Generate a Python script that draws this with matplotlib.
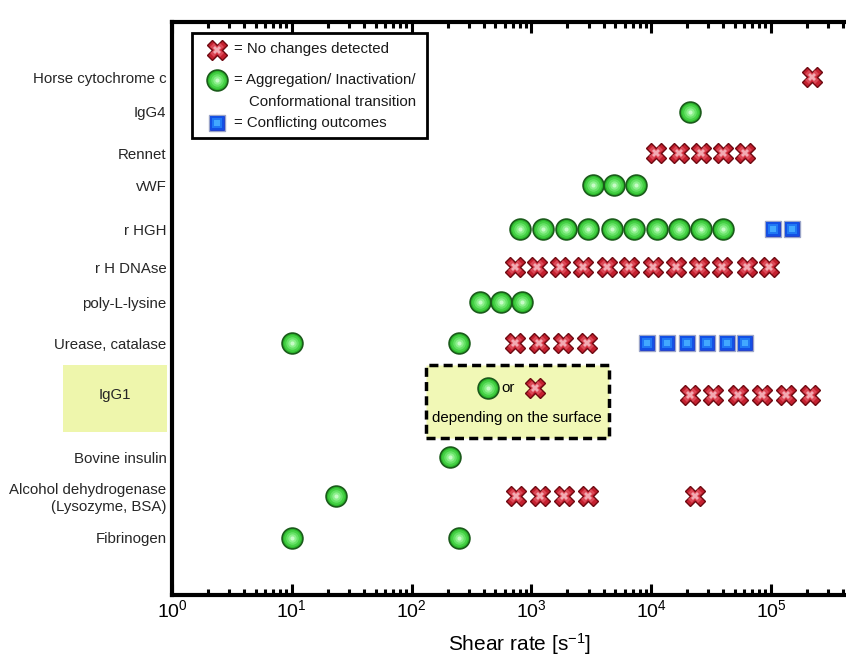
import matplotlib
matplotlib.use("Agg")
import matplotlib.pyplot as plt
from matplotlib.patches import Rectangle
from matplotlib.ticker import LogLocator, NullFormatter
import matplotlib.transforms as mtransforms

plt.rcParams['font.family'] = ['Liberation Sans', 'DejaVu Sans']
plt.rcParams['mathtext.fontset'] = 'custom'
plt.rcParams['mathtext.rm'] = 'Liberation Sans'
plt.rcParams['mathtext.it'] = 'Liberation Sans:italic'

# ---------- dados (taxa de cisalhamento, s^-1) ----------
proteins = ["Horse cytochrome c", "IgG4", "Rennet", "vWF", "r HGH", "r H DNAse",
            "poly-L-lysine", "Urease, catalase", "IgG1", "Bovine insulin",
            "Alcohol dehydrogenase\n(Lysozyme, BSA)", "Fibrinogen"]
row_pos = [12.95, 12.08, 11.05, 10.25, 9.15, 8.2, 7.32, 6.29, 5.0, 3.45, 2.48, 1.43]

no_change = [
    [2.2e5],
    [],
    [1.1e4, 1.7e4, 2.6e4, 4.0e4, 6.1e4],
    [],
    [],
    [730, 1120, 1730, 2710, 4250, 6560, 1.04e4, 1.61e4, 2.52e4, 3.87e4, 6.27e4, 9.68e4],
    [],
    [730, 1165, 1850, 2900],
    [2.1e4, 3.3e4, 5.3e4, 8.4e4, 1.33e5, 2.12e5],
    [],
    [740, 1180, 1870, 2990, 2.32e4],
    [],
]
aggregation = [
    [],
    [2.1e4],
    [],
    [3.3e3, 4.9e3, 7.4e3],
    [800, 1240, 1950, 2990, 4680, 7180, 1.11e4, 1.72e4, 2.62e4, 4.0e4],
    [],
    [372, 557, 840],
    [10, 250],
    [],
    [210],
    [23.4],
    [10, 250],
]
conflicting = [
    [], [], [], [],
    [1.04e5, 1.51e5],
    [], [],
    [9170, 1.35e4, 1.98e4, 2.9e4, 4.27e4, 6.07e4],
    [], [], [], [],
]

# ---------- estilo dos marcadores (camadas para efeito "brilhante") ----------
LAYERS = {
    "x": [("X", 14, "#c4202f", "#6e0a12", 1.0), ("X", 10, "#dc4a58", "none", 0),
          ("X", 6, "#f2aab2", "none", 0)],
    "o": [("o", 15, "#2cb82c", "#1a5a1a", 1.2), ("o", 12, "#45d045", "none", 0),
          ("o", 9, "#66e266", "none", 0), ("o", 6, "#8cf08c", "none", 0),
          ("o", 3, "#c6fbc6", "none", 0)],
    "s": [("s", 12, "#0b2fd0", "#9aa4c8", 1.0), ("s", 9.5, "#1450e4", "none", 0),
          ("s", 7, "#2078f4", "none", 0), ("s", 4, "#42a8ff", "none", 0)],
}


def glossy(ax, xs, ys, kind, z=5, **kw):
    for mk, ms, fc, ec, mew in LAYERS[kind]:
        ax.plot(xs, ys, ls="none", marker=mk, ms=ms, mfc=fc, mec=ec, mew=mew,
                zorder=z, clip_on=False, **kw)


fig = plt.figure(figsize=(8.46, 6.59), dpi=100)
ax = fig.add_axes([0.2033, 0.0971, 0.8213, 0.8695])
ax.set_xscale("log")
ax.set_xlim(1, 10 ** 5.8)
ax.set_ylim(0, 14.325)

for i, y in enumerate(row_pos):
    if aggregation[i]:
        glossy(ax, aggregation[i], [y] * len(aggregation[i]), "o")
    if no_change[i]:
        glossy(ax, no_change[i], [y] * len(no_change[i]), "x")
    if conflicting[i]:
        glossy(ax, conflicting[i], [y] * len(conflicting[i]), "s")

# ---------- eixos ----------
for sp in ax.spines.values():
    sp.set_linewidth(3)
ax.xaxis.set_major_locator(LogLocator(base=10, numticks=10))
ax.xaxis.set_minor_locator(LogLocator(base=10, subs=range(2, 10), numticks=20))
ax.xaxis.set_minor_formatter(NullFormatter())
ax.tick_params(axis="x", which="both", direction="in", top=True, bottom=True,
               width=2.2, labelsize=14, pad=3, colors="black")
ax.tick_params(axis="x", which="major", length=8)
ax.tick_params(axis="x", which="minor", length=4.5)

ax.set_yticks(row_pos)
ax.set_yticklabels(["" if p == "IgG1" else p for p in proteins],
                   fontsize=10.8, color="#262626")
ax.tick_params(axis="y", length=0, pad=4)
ax.set_xlabel("Shear rate [s$^{-1}$]", fontsize=15, labelpad=7)

# rótulo IgG1 destacado
ytrans = mtransforms.blended_transform_factory(ax.transAxes, ax.transData)
igg1_y = row_pos[proteins.index("IgG1")]
ax.add_patch(Rectangle((-0.1569, 4.075), 0.1497, 1.675, transform=ytrans,
                       facecolor="#eef6ac", edgecolor="none", clip_on=False))
ax.text(-0.082, igg1_y, "IgG1", transform=ytrans, ha="center", va="center",
        fontsize=10.8, color="#262626")

# caixa tracejada "depending on the surface"
ax.add_patch(Rectangle((10 ** 2.12, 3.925), 10 ** 3.648 - 10 ** 2.12, 1.825,
                       facecolor="#f1f8b6", edgecolor="black", lw=2.5,
                       ls=(0, (2.6, 1.5)), zorder=3))
glossy(ax, [434], [5.175], "o")
ax.text(640, 5.175, "or", ha="center", va="center", fontsize=10.8, zorder=6)
glossy(ax, [1071], [5.175], "x")
ax.text(758, 4.425, "depending on the surface", ha="center", va="center",
        fontsize=10.8, zorder=6)

# legenda manual
ax.add_patch(Rectangle((0.0288, 0.7976), 0.3382, 0.1832, transform=ax.transAxes,
                       facecolor="white", edgecolor="black", lw=2, zorder=6))
glossy(ax, [0.0643], [0.9511], "x", z=8, transform=ax.transAxes)
glossy(ax, [0.0643], [0.8988], "o", z=8, transform=ax.transAxes)
glossy(ax, [0.0643], [0.8237], "s", z=8, transform=ax.transAxes)
for lx, ly, txt in [(0.0892, 0.9525, "= No changes detected"),
                    (0.0892, 0.8990, "= Aggregation/ Inactivation/"),
                    (0.1108, 0.8609, "Conformational transition"),
                    (0.0892, 0.8237, "= Conflicting outcomes")]:
    ax.text(lx, ly, txt, transform=ax.transAxes, ha="left", va="center",
            fontsize=10.8, color="#1a1a1a", zorder=7)

fig.savefig("out.png", dpi=100)
